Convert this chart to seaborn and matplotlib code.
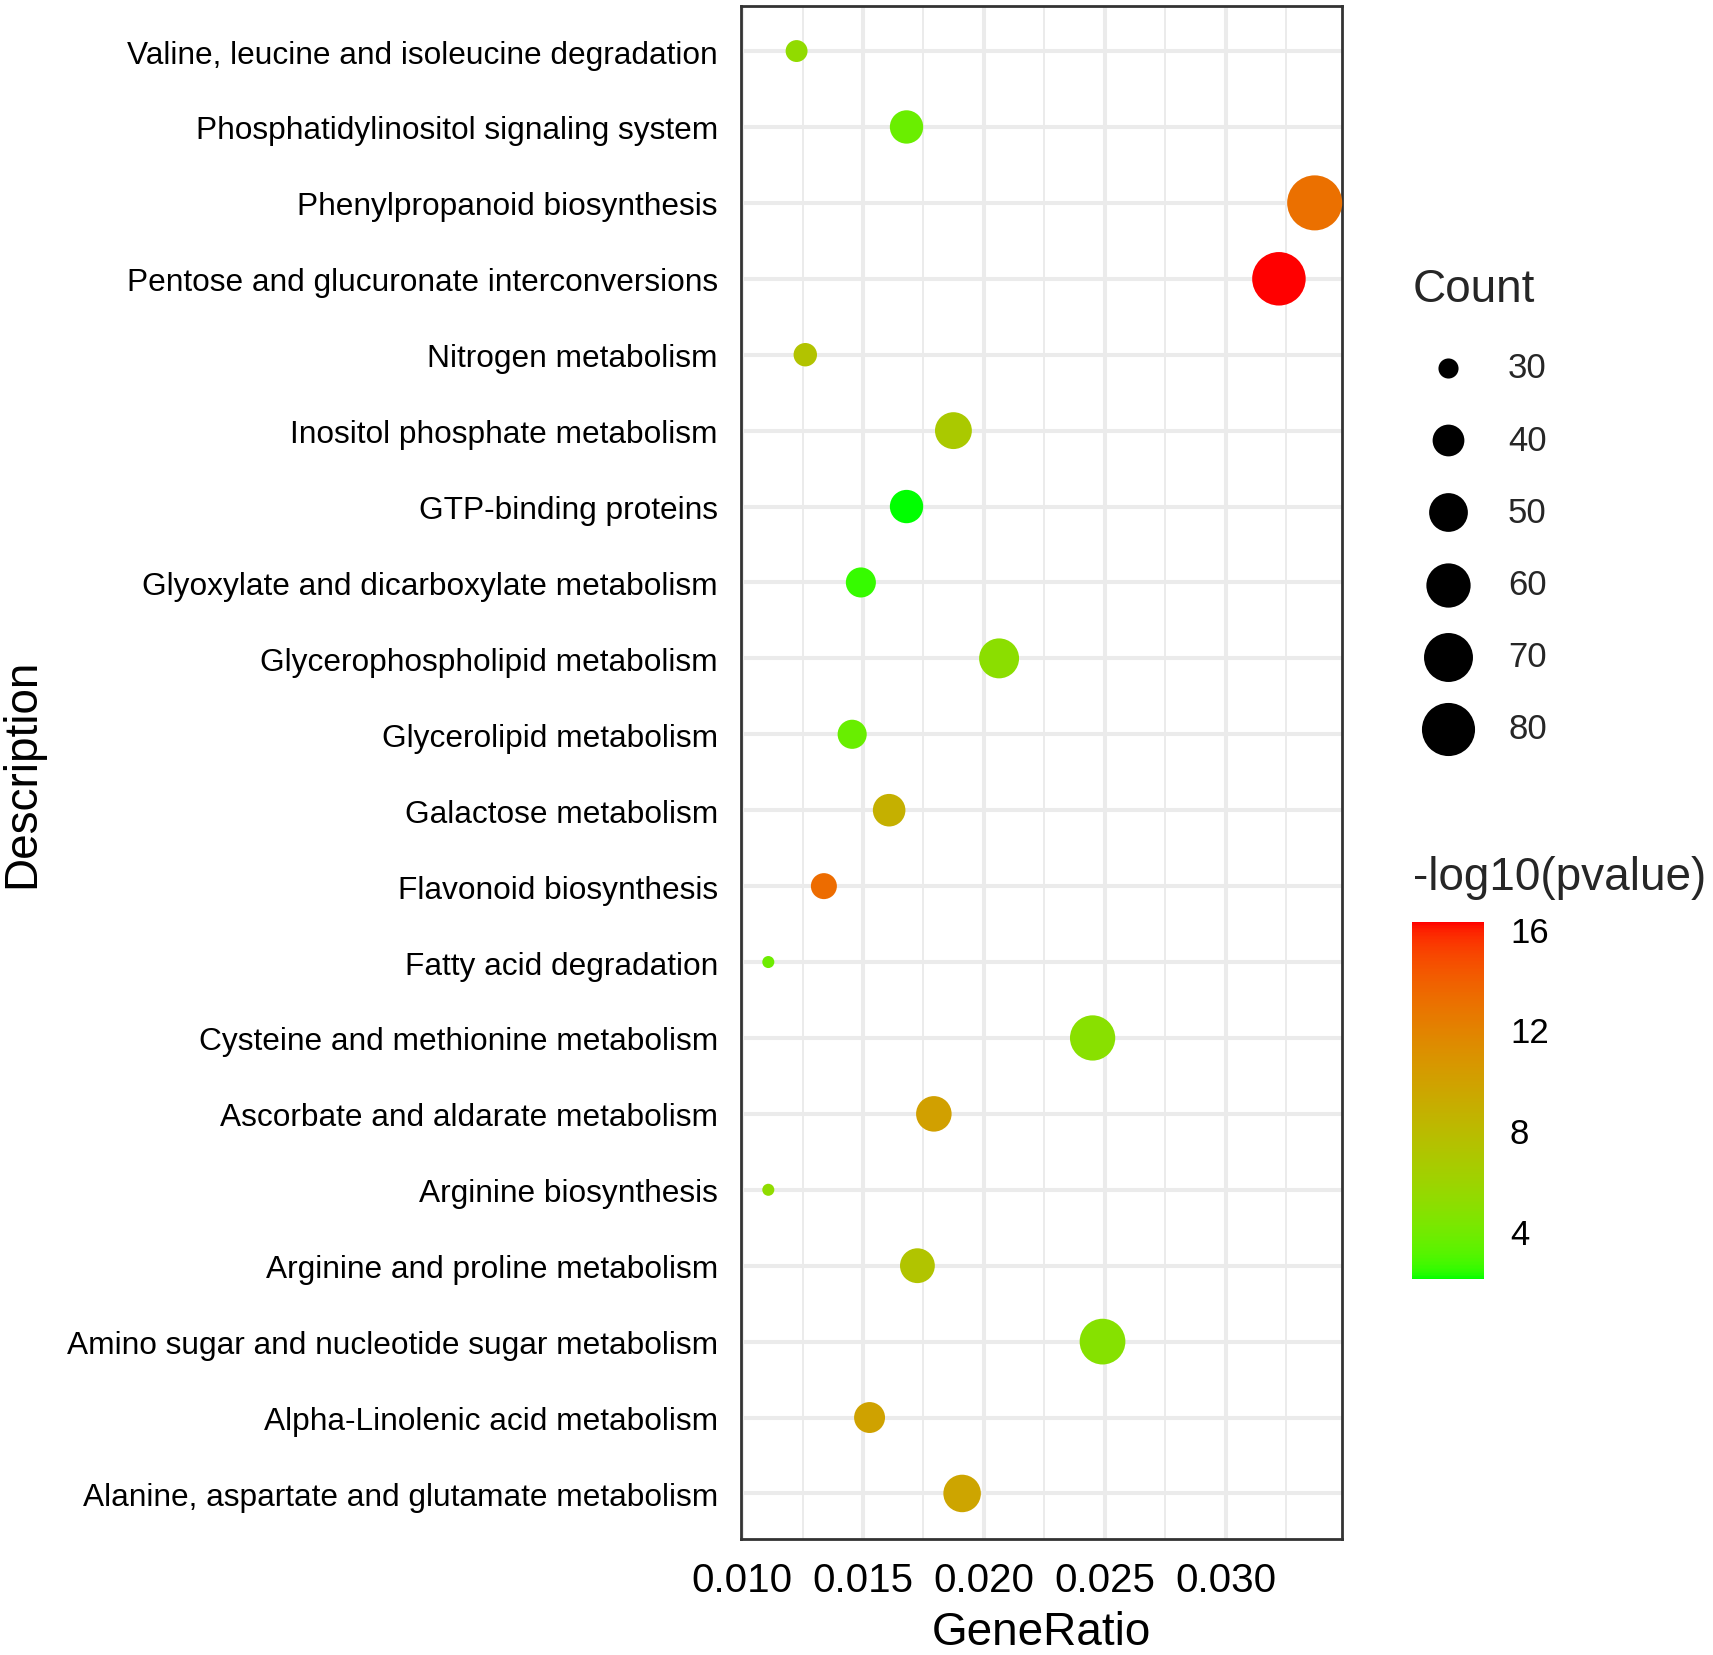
import numpy as np
import pandas as pd
import matplotlib
matplotlib.use("Agg")
import matplotlib.pyplot as plt
import matplotlib.colors as mcolors
import seaborn as sns

# KEGG enrichment results, listed top to bottom as in the chart
descriptions = [
    "Valine, leucine and isoleucine degradation",
    "Phosphatidylinositol signaling system",
    "Phenylpropanoid biosynthesis",
    "Pentose and glucuronate interconversions",
    "Nitrogen metabolism",
    "Inositol phosphate metabolism",
    "GTP-binding proteins",
    "Glyoxylate and dicarboxylate metabolism",
    "Glycerophospholipid metabolism",
    "Glycerolipid metabolism",
    "Galactose metabolism",
    "Flavonoid biosynthesis",
    "Fatty acid degradation",
    "Cysteine and methionine metabolism",
    "Ascorbate and aldarate metabolism",
    "Arginine biosynthesis",
    "Arginine and proline metabolism",
    "Amino sugar and nucleotide sugar metabolism",
    "Alpha-Linolenic acid metabolism",
    "Alanine, aspartate and glutamate metabolism",
]
gene_ratio = [0.01225, 0.01680, 0.03369, 0.03221, 0.01261, 0.01874, 0.01680,
              0.01491, 0.02063, 0.01455, 0.01608, 0.01338, 0.01108, 0.02450,
              0.01793, 0.01108, 0.01725, 0.02491, 0.01527, 0.01910]
counts = [31, 42, 85, 81, 32, 47, 42, 38, 52, 37, 41, 34, 28, 62, 45, 28, 44, 63, 39, 48]
neg_log10_p = [5.3, 3.7, 13.1, 16.26, 7.3, 6.8, 2.1, 2.5, 5.0, 3.6, 8.8, 13.3, 3.8, 4.9,
               10.0, 5.2, 7.2, 4.8, 9.8, 9.6]

count_breaks = [30, 40, 50, 60, 70, 80]
p_breaks = [4, 8, 12, 16]

df = pd.DataFrame({"Description": descriptions, "GeneRatio": gene_ratio,
                   "Count": counts, "pvalue": neg_log10_p})

W, H = 1713, 1656


# green -> red gradient interpolated in CIELAB, like ggplot's scale_color_gradient
def srgb_to_lab(rgb):
    c = np.asarray(rgb, float)
    lin = np.where(c <= 0.04045, c / 12.92, ((c + 0.055) / 1.055) ** 2.4)
    m = np.array([[0.4124564, 0.3575761, 0.1804375],
                  [0.2126729, 0.7151522, 0.0721750],
                  [0.0193339, 0.1191920, 0.9503041]])
    xyz = m @ lin / np.array([0.95047, 1.0, 1.08883])
    f = np.where(xyz > 0.008856, np.cbrt(xyz), 7.787 * xyz + 16 / 116)
    return np.array([116 * f[1] - 16, 500 * (f[0] - f[1]), 200 * (f[1] - f[2])])


def lab_to_srgb(lab):
    L, a, b = lab
    fy = (L + 16) / 116
    fx = fy + a / 500
    fz = fy - b / 200
    f = np.array([fx, fy, fz])
    xyz = np.where(f ** 3 > 0.008856, f ** 3, (f - 16 / 116) / 7.787)
    xyz = xyz * np.array([0.95047, 1.0, 1.08883])
    minv = np.array([[3.2404542, -1.5371385, -0.4985314],
                     [-0.9692660, 1.8760108, 0.0415560],
                     [0.0556434, -0.2040259, 1.0572252]])
    lin = np.clip(minv @ xyz, 0, 1)
    c = np.where(lin <= 0.0031308, 12.92 * lin, 1.055 * lin ** (1 / 2.4) - 0.055)
    return np.clip(c, 0, 1)


lab_lo = srgb_to_lab([0, 1, 0])
lab_hi = srgb_to_lab([1, 0, 0])
ramp = [lab_to_srgb(lab_lo + (lab_hi - lab_lo) * t) for t in np.linspace(0, 1, 256)]
cmap = mcolors.ListedColormap(ramp)
p_lo, p_hi = min(neg_log10_p), max(neg_log10_p)

c_lo, c_hi = min(counts), max(counts)


def marker_area(c):
    # ggplot area scale: diameter 1..6 mm, here in pixels then points^2
    d_px = (1 + 5 * np.sqrt((c - c_lo) / (c_hi - c_lo)) + 0.4) * 8.6
    return (d_px * 0.72) ** 2


size_map = {c: marker_area(c) for c in sorted(set(counts))}

sns.set_style("white")
plt.rcParams["font.family"] = ["Liberation Sans", "DejaVu Sans"]

fig = plt.figure(figsize=(W / 100, H / 100), dpi=100)
ax = fig.add_axes([741 / W, 1 - 1540 / H, 601 / W, 1533.5 / H])

sns.scatterplot(data=df, x="GeneRatio", y="Description", hue="pvalue", size="Count",
                palette=cmap, hue_norm=(p_lo, p_hi), sizes=size_map,
                linewidth=0, legend=False, ax=ax, zorder=3, clip_on=False)

ax.set_xlim(0.00995, 0.03482)
ax.set_ylim(len(descriptions) - 0.4, -0.6)
ax.set_xticks([0.010, 0.015, 0.020, 0.025, 0.030])
ax.set_xticklabels(["0.010", "0.015", "0.020", "0.025", "0.030"])
ax.set_xticks([0.0125, 0.0175, 0.0225, 0.0275, 0.0325], minor=True)

ax.grid(which="major", color="#EBEBEB", linewidth=2.9)
ax.grid(which="minor", axis="x", color="#EBEBEB", linewidth=1.4)
ax.set_axisbelow(True)
for sp in ax.spines.values():
    sp.set_color("#333333")
    sp.set_linewidth(2.0)

ax.tick_params(axis="both", which="major", direction="out", length=8, width=2,
               color="#333333", labelcolor="black")
ax.tick_params(axis="x", which="minor", length=0)
ax.tick_params(axis="y", labelsize=22.8, pad=8.6)
ax.tick_params(axis="x", labelsize=29, pad=8)

ax.set_xlabel("GeneRatio", fontsize=33, color="black")
ax.set_ylabel("Description", fontsize=33, color="black")
ax.xaxis.set_label_coords(0.5, -(1611 - 1540) / 1533.5)
ax.yaxis.set_label_coords((44 - 741) / 601, 0.5)

# size legend ("Count") drawn on an overlay in pixel coordinates
lax = fig.add_axes([0, 0, 1, 1])
lax.set_xlim(0, W)
lax.set_ylim(H, 0)
lax.axis("off")
lax.text(1413, 290, "Count", fontsize=33, ha="left", va="center")
for i, c in enumerate(count_breaks):
    y = 369 + i * 72.2
    lax.scatter([1448], [y], s=marker_area(c), color="black", linewidth=0)
    lax.text(1508, y, str(c), fontsize=25, ha="left", va="center")

lax.text(1413, 878, "-log10(pvalue)", fontsize=33, ha="left", va="center")

# colour bar
cax = fig.add_axes([1412 / W, 1 - 1280 / H, 72 / W, 357 / H])
cb = matplotlib.colorbar.ColorbarBase(cax, cmap=cmap, norm=mcolors.Normalize(p_lo, p_hi),
                                      orientation="vertical", ticks=p_breaks)
cb.outline.set_visible(False)
cb.minorticks_off()
cax.tick_params(which="major", direction="in", length=10, width=1.5, color="white",
                labelcolor="black", labelsize=25, pad=18.7,
                left=True, right=True, labelleft=False, labelright=True)

fig.savefig("out.png", dpi=100, facecolor="white")
